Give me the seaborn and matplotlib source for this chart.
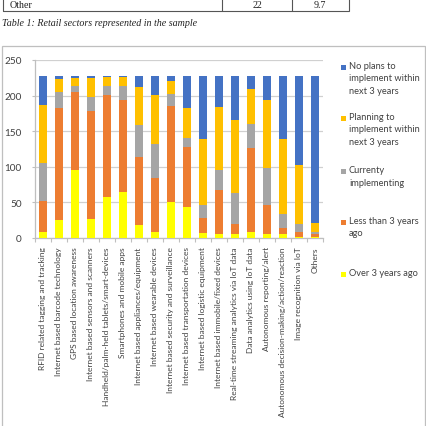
import matplotlib
matplotlib.use("Agg")
import matplotlib.pyplot as plt
import seaborn as sns
import pandas as pd
import numpy as np
from matplotlib.patches import Rectangle
from matplotlib.lines import Line2D

categories = [
    "RFID related tagging and tracking",
    "Internet based barcode technology",
    "GPS based location awareness",
    "Internet based sensors and scanners",
    "Handheld/palm-held tablets/smart-devices",
    "Smartphones and mobile apps",
    "Internet based appliances/equipment",
    "Internet based wearable devices",
    "Internet based security and surveillance",
    "Internet based transportation devices",
    "Internet based logistic equipment",
    "Internet based immobile/fixed devices",
    "Real-time streaming analytics via IoT data",
    "Data analytics using IoT data",
    "Autonomous reporting/alert",
    "Autonomous decision-making/action/reaction",
    "Image recognition via IoT",
    "Others",
]
over_3_years = [8, 25, 96, 27, 57, 65, 18, 8, 51, 43, 7, 6, 5, 9, 6, 6, 2, 2]
less_than_3_years = [44, 157, 109, 152, 144, 129, 96, 76, 135, 85, 21, 62, 14, 118, 40, 8, 6, 3]
currently_implementing = [53, 23, 9, 19, 13, 20, 45, 48, 16, 13, 19, 27, 44, 33, 52, 20, 11, 4]
planning_3_years = [82, 19, 11, 27, 12, 12, 53, 69, 18, 42, 92, 89, 103, 49, 96, 105, 84, 12]
no_plans_3_years = [40, 3, 2, 2, 1, 1, 15, 26, 7, 44, 88, 43, 61, 18, 33, 88, 124, 206]

series_labels = [
    "No plans to\nimplement within\nnext 3 years",
    "Planning to\nimplement within\nnext 3 years",
    "Currenty\nimplementing",
    "Less than 3 years\nago",
    "Over 3 years ago",
]
colors = ["#4472C4", "#FFC000", "#A5A5A5", "#ED7D31", "#FFFF00"]
y_ticks = [0, 50, 100, 150, 200, 250]

table_row = ["Other", "22", "9.7"]
caption = "Table 1: Retail sectors represented in the sample"

sns.set_theme(style="white")
plt.rcParams['font.family'] = ['Lato', 'DejaVu Sans']

W = H = 427
fig = plt.figure(figsize=(4.27, 4.27), dpi=100)
fig.patch.set_facecolor("white")


def fx(x):
    return x / W


def fy(y):
    return 1 - y / H


# ---- table fragment and caption ----
serif = ['Liberation Serif', 'DejaVu Serif']
fig.add_artist(Rectangle((fx(2.5), fy(11.5)), fx(349) - fx(2.5), fy(-3) - fy(11.5),
                         fill=False, edgecolor="#555555", lw=0.8, transform=fig.transFigure))
for xd in (222, 292):
    fig.add_artist(Line2D([fx(xd), fx(xd)], [fy(-3), fy(11.5)], color="#555555", lw=0.8,
                          transform=fig.transFigure))
fig.text(fx(10), fy(5), table_row[0], family=serif, fontsize=7.2, va="center", ha="left", color="#222222")
fig.text(fx(257), fy(5), table_row[1], family=serif, fontsize=7.2, va="center", ha="center", color="#222222")
fig.text(fx(320), fy(5), table_row[2], family=serif, fontsize=7.2, va="center", ha="center", color="#222222")
fig.text(fx(2), fy(24), caption, family=serif, style="italic", fontsize=7.2, va="center", ha="left",
         color="#222222")

# chart frame
fig.add_artist(Rectangle((fx(2), fy(430)), fx(425) - fx(2), fy(47) - fy(430),
                         fill=False, edgecolor="#BFBFBF", lw=0.9, transform=fig.transFigure))

# ---- chart ----
ax = fig.add_axes([fx(35), fy(239), fx(323) - fx(35), fy(61) - fy(239)])

layers = [no_plans_3_years, planning_3_years, currently_implementing, less_than_3_years, over_3_years]
stack_bottom_up = layers[::-1]
cum = np.cumsum(np.array(stack_bottom_up), axis=0)[::-1]  # index 0 = total (top layer)

for i, (vals, col) in enumerate(zip(cum, colors)):
    df = pd.DataFrame({"category": categories, "value": vals})
    sns.barplot(data=df, x="category", y="value", order=categories, color=col,
                saturation=1, width=0.56, ax=ax, edgecolor="none", zorder=2 + i)

ax.set_ylim(0, 250)
ax.set_xlim(-0.5, len(categories) - 0.5)
ax.set_yticks(y_ticks)
ax.set_xlabel("")
ax.set_ylabel("")
ax.yaxis.grid(True, color="#D0D0D0", lw=0.9)
ax.xaxis.grid(False)
ax.set_axisbelow(True)
for s in ("top", "right"):
    ax.spines[s].set_visible(False)
for s in ("left", "bottom"):
    ax.spines[s].set_color("#BFBFBF")
    ax.spines[s].set_linewidth(0.9)

ax.tick_params(axis="y", length=2.5, width=0.8, color="#BFBFBF", pad=7, labelsize=7.2, labelcolor="#404040", left=True)
ax.tick_params(axis="x", which="major", length=0, pad=6, labelsize=6.0, labelcolor="#404040", rotation=90)
ax.set_xticks(np.arange(-0.5, len(categories), 1.0), minor=True)
ax.tick_params(axis="x", which="minor", length=3, width=0.8, color="#BFBFBF", bottom=True)
ax.set_facecolor("white")

# ---- legend ----
legend_y = [68, 119, 172, 223, 275]
for lab, col, yy in zip(series_labels, colors, legend_y):
    fig.add_artist(Rectangle((fx(341), fy(yy + 2.5)), fx(5) - fx(0), fy(0) - fy(5), facecolor=col,
                             edgecolor="none", transform=fig.transFigure))
    fig.text(fx(349), fy(yy - 6), lab, fontsize=6.7, va="top", ha="left", color="#404040", linespacing=1.5)

fig.savefig("out.png", dpi=100)
